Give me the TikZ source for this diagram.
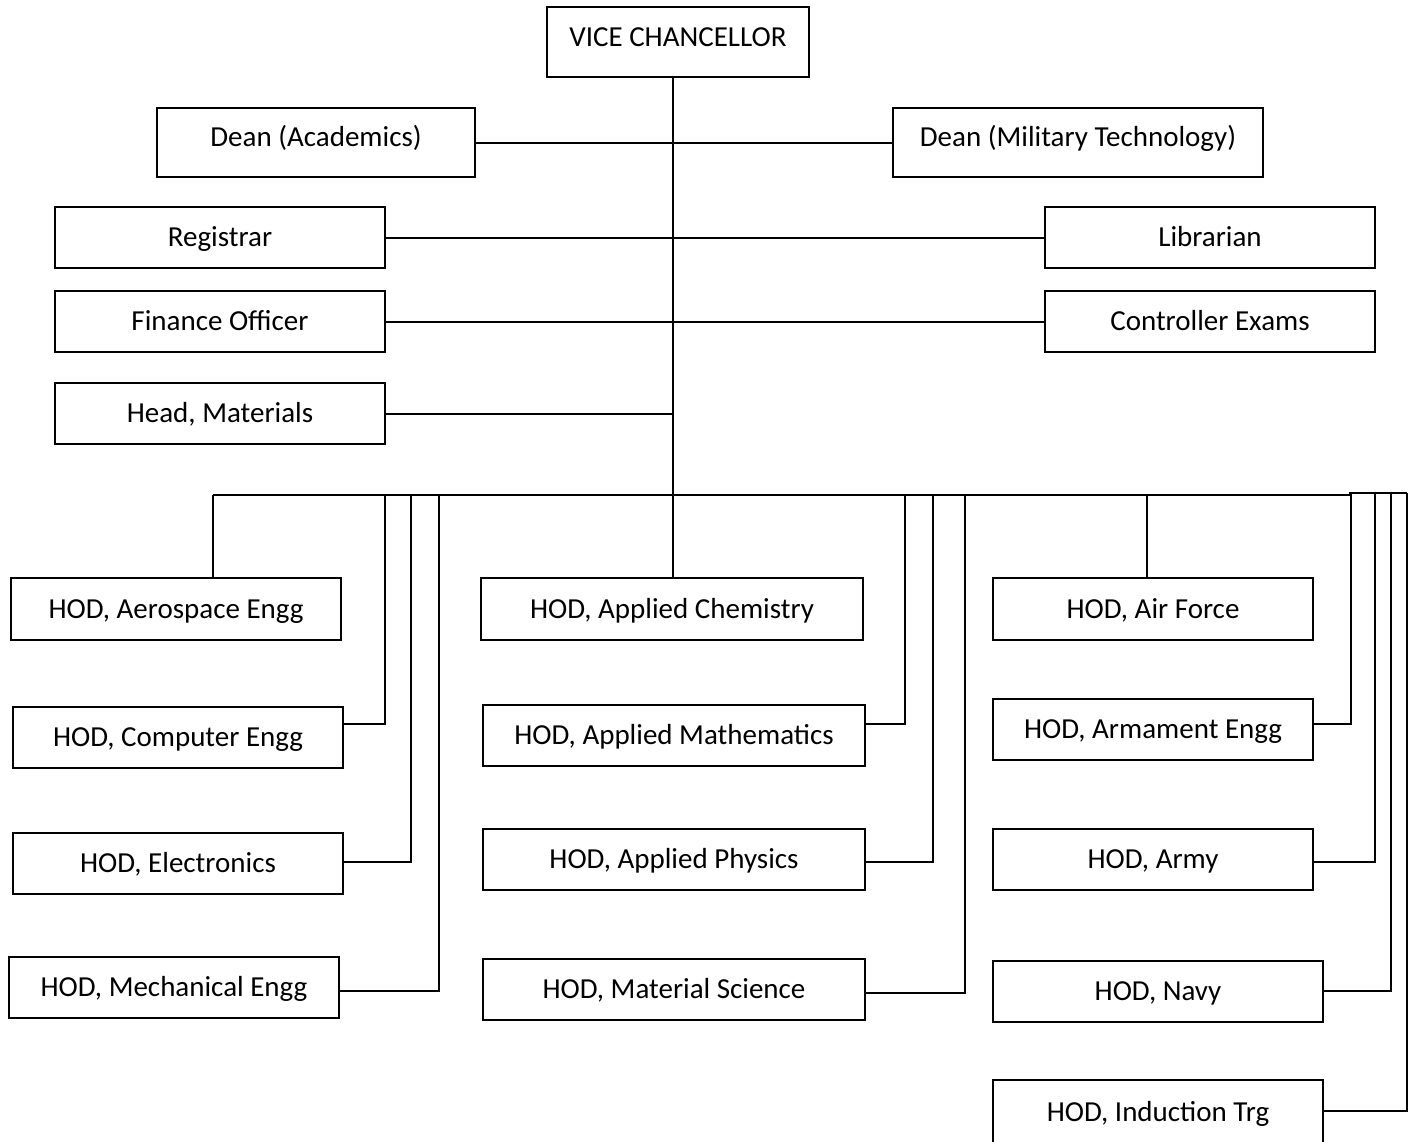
\documentclass[tikz,border=0pt]{standalone}
\usepackage{fontspec}
\setmainfont{Carlito}
\begin{document}
\begin{tikzpicture}[x=1pt,y=-1pt,
  box/.style={draw, line width=2pt, rectangle, inner sep=0pt, text height=19.5pt, text depth=1pt, font=\fontsize{29}{34}\selectfont},
  conn/.style={line width=2pt}]
\clip (0,0) rectangle (1415,1141);
\useasboundingbox (0,0) rectangle (1415,1141);
% boxes
\node[box, minimum width=262, minimum height=70] (vc) at (678,42) {\raisebox{5pt}{VICE CHANCELLOR}};
\node[box, minimum width=318, minimum height=69] (dacad) at (316,142.5) {\raisebox{5pt}{Dean (Academics)}};
\node[box, minimum width=370, minimum height=69] (dmil) at (1078,142.5) {\raisebox{5pt}{Dean (Military Technology)}};
\node[box, minimum width=330, minimum height=61] (reg) at (220,237.5) {Registrar};
\node[box, minimum width=330, minimum height=61] (lib) at (1210,237.5) {Librarian};
\node[box, minimum width=330, minimum height=61] (fin) at (220,321.5) {Finance Officer};
\node[box, minimum width=330, minimum height=61] (ctrl) at (1210,321.5) {Controller Exams};
\node[box, minimum width=330, minimum height=61] (headm) at (220,413.5) {Head, Materials};
\node[box, minimum width=330, minimum height=62] (aero) at (176,609) {HOD, Aerospace Engg};
\node[box, minimum width=382, minimum height=62] (chem) at (672,609) {HOD, Applied Chemistry};
\node[box, minimum width=320, minimum height=62] (airf) at (1153,609) {HOD, Air Force};
\node[box, minimum width=330, minimum height=61] (comp) at (178,737.5) {HOD, Computer Engg};
\node[box, minimum width=382, minimum height=61] (math) at (674,735.5) {HOD, Applied Mathematics};
\node[box, minimum width=320, minimum height=61] (arm) at (1153,729.5) {HOD, Armament Engg};
\node[box, minimum width=330, minimum height=61] (elec) at (178,863.5) {HOD, Electronics};
\node[box, minimum width=382, minimum height=61] (phys) at (674,859.5) {HOD, Applied Physics};
\node[box, minimum width=320, minimum height=61] (army) at (1153,859.5) {HOD, Army};
\node[box, minimum width=330, minimum height=61] (mech) at (174,987.5) {HOD, Mechanical Engg};
\node[box, minimum width=382, minimum height=61] (msci) at (674,989.5) {HOD, Material Science};
\node[box, minimum width=330, minimum height=61] (navy) at (1158,991.5) {HOD, Navy};
\node[box, minimum width=330, minimum height=64] (ind) at (1158,1112) {HOD, Induction Trg};
% coordinates
\coordinate (top) at (673,77);
\coordinate (bL) at (213,495);
\coordinate (bR) at (1351,495);
\coordinate (bA) at (1147,495);
\coordinate (rL) at (1349,493);
\coordinate (rR) at (1407,493);
\coordinate (c1) at (385,724);
\coordinate (c2) at (411,862);
\coordinate (c3) at (439,991);
\coordinate (c4) at (905,724);
\coordinate (c5) at (933,862);
\coordinate (c6) at (965,993);
\coordinate (c7) at (1351,724);
\coordinate (c8) at (1375,862);
\coordinate (c9) at (1391,991);
\coordinate (c10) at (1407,1111);
% connectors
\draw[conn] (top |- vc.south) -- (top |- chem.north);
\draw[conn] (dacad.east) -- (dmil.west);
\draw[conn] (reg.east) -- (lib.west);
\draw[conn] (fin.east) -- (ctrl.west);
\draw[conn] (headm.east) -- (headm.east -| top);
\draw[conn] (bL) -- (bR);
\draw[conn] (rL) -- (rR);
\draw[conn] (bL) -- (bL |- aero.north);
\draw[conn] (bA) -- (bA |- airf.north);
\draw[conn] (c1 -| comp.east) -- (c1) -- (c1 |- bL);
\draw[conn] (c2 -| elec.east) -- (c2) -- (c2 |- bL);
\draw[conn] (c3 -| mech.east) -- (c3) -- (c3 |- bL);
\draw[conn] (c4 -| math.east) -- (c4) -- (c4 |- bL);
\draw[conn] (c5 -| phys.east) -- (c5) -- (c5 |- bL);
\draw[conn] (c6 -| msci.east) -- (c6) -- (c6 |- bL);
\draw[conn] (c7 -| arm.east) -- (c7) -- (c7 |- rL);
\draw[conn] (c8 -| army.east) -- (c8) -- (c8 |- rL);
\draw[conn] (c9 -| navy.east) -- (c9) -- (c9 |- rL);
\draw[conn] (c10 -| ind.east) -- (c10) -- (c10 |- rL);
\end{tikzpicture}
\end{document}
